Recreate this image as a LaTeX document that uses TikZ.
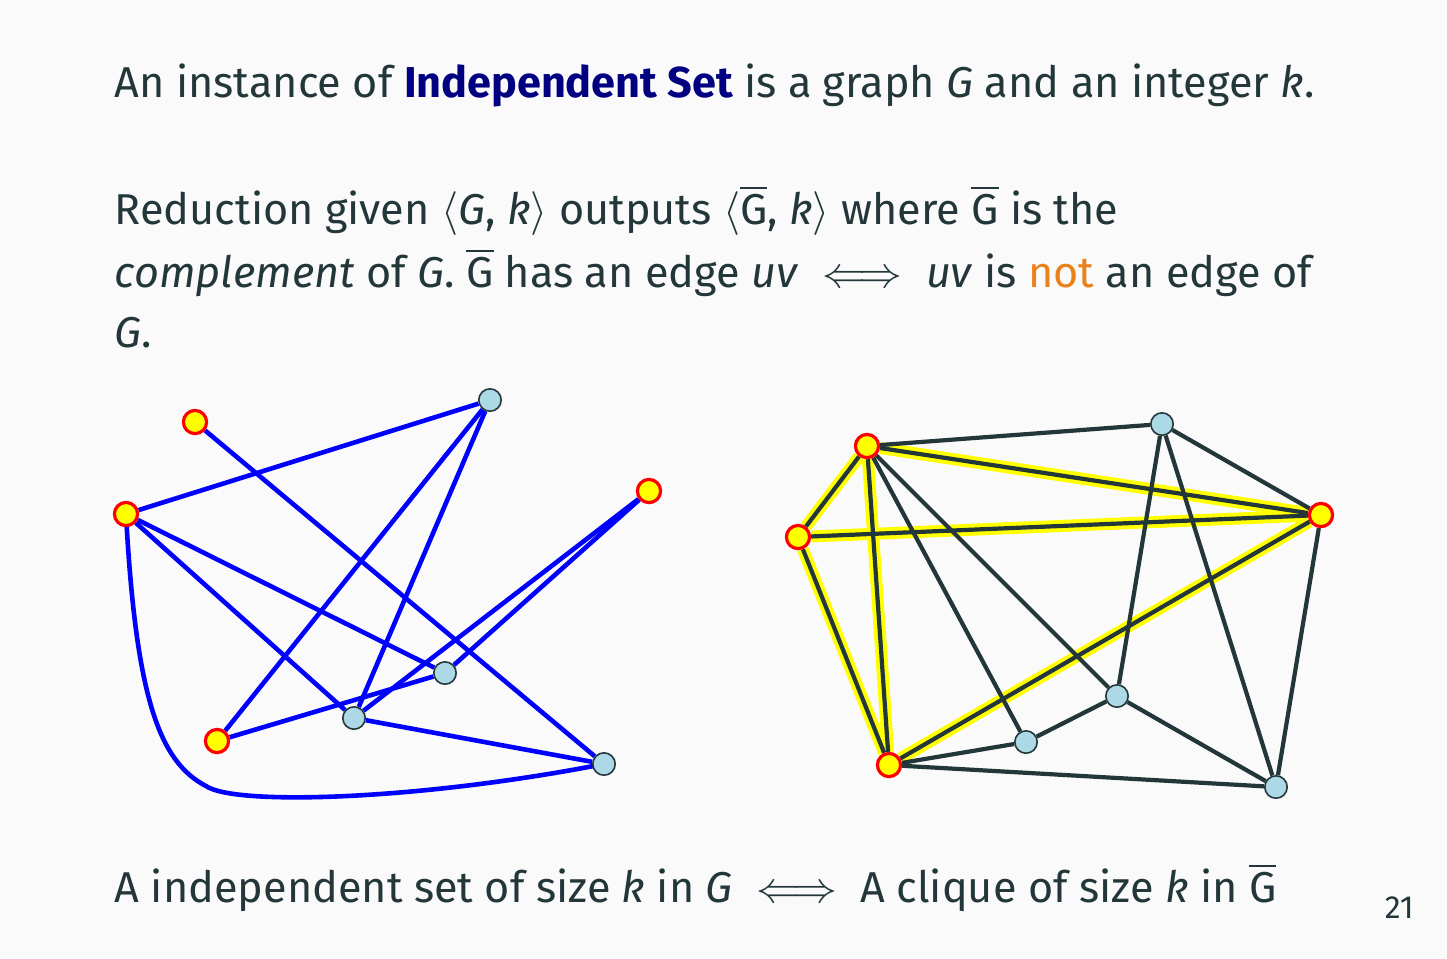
\documentclass[tikz,border=0pt]{standalone}
\usepackage{fontspec}
\setmainfont{Fira Sans}
\definecolor{fg}{HTML}{23373B}
\definecolor{bgc}{HTML}{FAFAFA}
\definecolor{navyc}{HTML}{000080}
\definecolor{orangec}{HTML}{EB811B}
\definecolor{lb}{HTML}{ADD8E6}
\definecolor{hl}{HTML}{FFFF00}
\pgfdeclarelayer{bgl}
\pgfdeclarelayer{edges}
\pgfsetlayers{bgl,edges,main}
\newcommand{\Gb}{$\overline{\hbox{G}}$}
\newcommand{\Gi}{\textit{G}}
\newcommand{\ki}{\textit{k}}
\begin{document}
\begin{tikzpicture}[x=0.25pt,y=-0.25pt,
  txt/.style={anchor=base west, inner sep=0pt, text=fg, font=\fontsize{10.8}{13}\selectfont},
  sel/.style={circle, minimum size=5.8pt, inner sep=0pt, draw=red, line width=0.8pt, fill=hl},
  nsel/.style={circle, minimum size=5.6pt, inner sep=0pt, draw=fg, line width=0.4pt, fill=lb},
  bedge/.style={draw=blue, line width=1.15pt},
  dedge/.style={draw=fg, line width=1.05pt},
  hedge/.style={draw=hl, line width=3pt}]
\begin{pgfonlayer}{bgl}
\fill[bgc] (0,0) rectangle (1447,958);
\end{pgfonlayer}
\useasboundingbox (0,0) rectangle (1447,958);

% texts
\node[txt] (t1) at (114,97) {An instance of {\color{navyc}\bfseries Independent Set} is a graph \Gi{} and an integer \ki.};
\node[txt] (t2) at (114,224) {Reduction given $\langle$\Gi, \ki$\rangle$ outputs $\big\langle$\Gb, \ki$\big\rangle$ where \Gb{} is the};
\node[txt] (t3) at (114,287) {\textit{complement} of \Gi. \Gb{} has an edge \textit{uv} $\iff$ \textit{uv} is {\color{orangec}not} an edge of};
\node[txt] (t4) at (114,347) {\Gi.};
\node[txt] (t5) at (114,902) {A independent set of size \ki{} in \Gi{} $\iff$ A clique of size \ki{} in \Gb};
\node[txt, font=\fontsize{8}{9.6}\selectfont] (pg) at (1384,918) {21};

% left graph G
\node[sel]  (a) at (195,422) {};
\node[nsel] (b) at (490,400) {};
\node[sel]  (c) at (126,514) {};
\node[sel]  (d) at (649,491) {};
\node[nsel] (e) at (445,673) {};
\node[nsel] (f) at (354,718) {};
\node[sel]  (g) at (217,741) {};
\node[nsel] (h) at (604,764) {};
\coordinate (cc) at (206,786);
\begin{pgfonlayer}{edges}
\path[bedge] (a) -- (h);
\path[bedge] (c) -- (b);
\path[bedge] (c) -- (e);
\path[bedge] (c) -- (f);
\path[bedge] (b) -- (g);
\path[bedge] (b) -- (f);
\path[bedge] (d) -- (f);
\path[bedge] (d) -- (e);
\path[bedge] (g) -- (e);
\path[bedge] (f) -- (h);
\path[bedge] (c.center) .. controls (136,700) and (160,762) .. (cc) .. controls (235,806) and (420,800) .. (h.center);
\end{pgfonlayer}

% right graph: complement
\node[sel]  (A) at (867,446) {};
\node[nsel] (B) at (1162,424) {};
\node[sel]  (C) at (798,537) {};
\node[sel]  (D) at (1321,515) {};
\node[nsel] (E) at (1117,696) {};
\node[nsel] (F) at (1026,742) {};
\node[sel]  (G) at (889,765) {};
\node[nsel] (H) at (1276,787) {};
\begin{pgfonlayer}{edges}
\foreach \u/\v in {A/C,A/D,A/G,C/D,C/G,D/G}
  \path[hedge] (\u) -- (\v);
\foreach \u/\v in {A/B,A/C,A/D,A/E,A/F,A/G,B/D,B/E,B/H,C/D,C/G,D/G,D/H,E/F,E/H,F/G,G/H}
  \path[dedge] (\u) -- (\v);
\end{pgfonlayer}
\end{tikzpicture}
\end{document}
